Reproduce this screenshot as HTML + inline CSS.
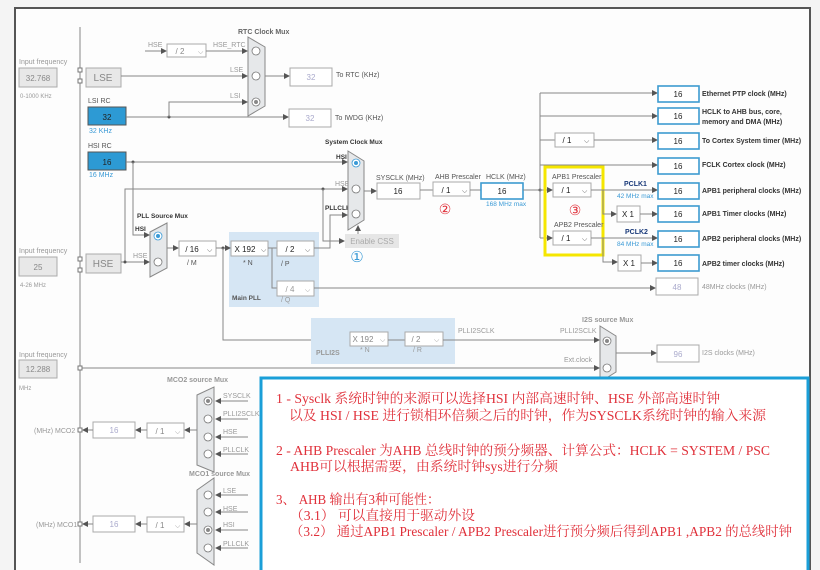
<!DOCTYPE html>
<html><head><meta charset="utf-8"><style>
html,body{margin:0;padding:0;background:#f4f4f4;}
svg{display:block;font-family:"Liberation Sans",sans-serif;}
.l{stroke:#888;stroke-width:1;fill:none}
.b{fill:#fff;stroke:#aaa;stroke-width:1}
.bb{fill:#fff;stroke:#3d9bd0;stroke-width:1.6}
.t{font-size:7px;fill:#555}
.tg{font-size:7px;fill:#999}
.tb{font-size:7px;fill:#333;font-weight:bold}
.v{font-size:8px;fill:#222;text-anchor:middle}
.vg{font-size:8px;fill:#aac;text-anchor:middle}
.mux{fill:#e6e8ea;stroke:#888;stroke-width:1}
.c{fill:#fff;stroke:#777;stroke-width:0.8}
.r{font-family:"Liberation Serif","Noto Serif CJK SC",serif;font-size:13.5px;fill:#e0303a}
</style></head><body>
<svg width="820" height="570" viewBox="0 0 820 570" xmlns="http://www.w3.org/2000/svg">
<defs><marker id="a" markerWidth="6" markerHeight="6" refX="5" refY="3" orient="auto" markerUnits="userSpaceOnUse"><path d="M0,0 L6,3 L0,6z" fill="#555"/></marker></defs>
<rect x="15" y="8" width="795" height="570" fill="#fdfdfd" stroke="#555" stroke-width="2"/>
<line x1="80" y1="27" x2="80" y2="563" class="l"/>
<!-- left inputs -->
<text x="19" y="64" class="tg">Input frequency</text>
<rect x="19" y="68" width="38" height="19" fill="#e8e8e8" stroke="#aaa"/><text x="38" y="81" class="vg" style="fill:#888">32.768</text>
<text x="20" y="98" class="tg" style="font-size:6px">0-1000 KHz</text>
<rect x="78" y="68" width="4" height="4" fill="#fff" stroke="#777"/><rect x="78" y="79" width="4" height="4" fill="#fff" stroke="#777"/>
<rect x="86" y="68" width="35" height="19" fill="#e8e8e8" stroke="#aaa"/><text x="103" y="81" style="font-size:10px;fill:#888;text-anchor:middle">LSE</text>
<text x="19" y="253" class="tg">Input frequency</text>
<rect x="19" y="257" width="38" height="19" fill="#e8e8e8" stroke="#aaa"/><text x="38" y="270" class="vg" style="fill:#888">25</text>
<text x="20" y="287" class="tg" style="font-size:6px">4-26 MHz</text>
<rect x="78" y="257" width="4" height="4" fill="#fff" stroke="#777"/><rect x="78" y="268" width="4" height="4" fill="#fff" stroke="#777"/>
<rect x="86" y="254" width="35" height="19" fill="#e8e8e8" stroke="#aaa"/><text x="103" y="267" style="font-size:10px;fill:#888;text-anchor:middle">HSE</text>
<text x="19" y="357" class="tg">Input frequency</text>
<rect x="19" y="360" width="38" height="18" fill="#e8e8e8" stroke="#aaa"/><text x="38" y="372" class="vg" style="fill:#888">12.288</text>
<text x="19" y="390" class="tg" style="font-size:6px">MHz</text>
<!-- RTC -->
<text x="238" y="34" class="tb" style="fill:#666">RTC Clock Mux</text>
<line x1="145" y1="51" x2="166" y2="51" class="l" marker-end="url(#a)"/><text x="148" y="47" class="tg">HSE</text>
<rect x="167" y="44" width="39" height="13" class="b"/><text x="180" y="54" class="v" style="fill:#888">/ 2</text><text x="198" y="54" class="tg">⌵</text>
<line x1="206" y1="51" x2="247" y2="51" class="l" marker-end="url(#a)"/><text x="213" y="47" class="tg">HSE_RTC</text>
<line x1="121" y1="76" x2="247" y2="76" class="l" marker-end="url(#a)"/><text x="230" y="72" class="tg">LSE</text>
<path d="M248,37 L265,47 L265,106 L248,116z" class="mux"/>
<circle cx="256" cy="51" r="4" class="c"/><circle cx="256" cy="76" r="4" class="c"/><circle cx="256" cy="102" r="4" class="c"/><circle cx="256" cy="102" r="2" fill="#888"/>
<line x1="265" y1="76" x2="289" y2="76" class="l" marker-end="url(#a)"/>
<rect x="290" y="68" width="42" height="18" class="b"/><text x="311" y="80" class="vg">32</text><text x="336" y="77" class="t">To RTC (KHz)</text>
<text x="88" y="103" class="t">LSI RC</text>
<rect x="88" y="107" width="38" height="18" fill="#2d9ad4" stroke="#555"/><text x="107" y="120" class="v">32</text>
<text x="89" y="133" style="font-size:7px;fill:#3a9ad6">32 KHz</text>
<line x1="126" y1="117" x2="288" y2="117" class="l" marker-end="url(#a)"/><circle cx="169" cy="117" r="1.5" fill="#555"/>
<polyline points="169,117 169,102 247,102" class="l" marker-end="url(#a)"/><text x="230" y="98" class="tg">LSI</text>
<rect x="289" y="109" width="42" height="18" class="b"/><text x="310" y="121" class="vg">32</text><text x="335" y="120" class="t">To IWDG (KHz)</text>
<text x="88" y="148" class="t">HSI RC</text>
<rect x="88" y="152" width="38" height="18" fill="#2d9ad4" stroke="#555"/><text x="107" y="165" class="v">16</text>
<text x="89" y="177" style="font-size:7px;fill:#3a9ad6">16 MHz</text>
<!-- sys mux -->
<line x1="126" y1="162" x2="347" y2="162" class="l" marker-end="url(#a)"/><circle cx="133" cy="162" r="1.5" fill="#555"/>
<polyline points="133,162 133,235 149,235" class="l" marker-end="url(#a)"/>
<polyline points="125,262 125,189 347,189" class="l" marker-end="url(#a)"/><circle cx="323" cy="189" r="1.5" fill="#555"/>
<line x1="121" y1="262" x2="149" y2="262" class="l" marker-end="url(#a)"/><circle cx="125" cy="262" r="1.5" fill="#555"/>
<text x="325" y="144" class="tb" style="font-size:6.5px">System Clock Mux</text>
<text x="336" y="159" class="tb" style="font-size:6.5px">HSI</text><text x="335" y="186" class="tg">HSE</text><text x="325" y="210" class="tb" style="font-size:6.5px">PLLCLK</text>
<path d="M348,151 L364,161 L364,220 L348,230z" class="mux"/>
<circle cx="356" cy="163" r="4" class="c" style="stroke:#3a9ad6"/><circle cx="356" cy="163" r="2" fill="#3a9ad6"/>
<circle cx="356" cy="189" r="4" class="c"/><circle cx="356" cy="214" r="4" class="c"/>
<polyline points="323,189 323,241 344,241" class="l" marker-end="url(#a)"/>
<line x1="358" y1="234" x2="358" y2="226" class="l" marker-end="url(#a)"/>
<rect x="345" y="234" width="54" height="14" fill="#e6e6e6"/><text x="372" y="244" style="font-size:8px;fill:#aaa;text-anchor:middle">Enable CSS</text>
<text x="357" y="262" style="font-size:15px;fill:#3a9ad6;text-anchor:middle">①</text>
<!-- PLL -->
<text x="137" y="218" class="tb" style="font-size:6.5px">PLL Source Mux</text>
<text x="135" y="231" class="tb" style="font-size:6.5px">HSI</text><text x="133" y="258" class="tg">HSE</text>
<path d="M150,232 L167,223 L167,268 L150,277z" class="mux"/>
<circle cx="158" cy="236" r="4" class="c" style="stroke:#3a9ad6"/><circle cx="158" cy="236" r="2" fill="#3a9ad6"/><circle cx="158" cy="262" r="4" class="c"/>
<line x1="167" y1="248" x2="178" y2="248" class="l" marker-end="url(#a)"/>
<rect x="179" y="241" width="37" height="15" class="b"/><text x="192" y="252" class="v">/ 16</text><text x="207" y="252" class="t">⌵</text><text x="187" y="265" class="t">/ M</text>
<rect x="229" y="232" width="90" height="75" fill="#d6e6f4"/>
<line x1="216" y1="248" x2="230" y2="248" class="l" marker-end="url(#a)"/><circle cx="223" cy="248" r="1.5" fill="#555"/>
<rect x="231" y="241" width="37" height="15" class="b"/><text x="245" y="252" class="v">X 192</text><text x="261" y="252" class="t">⌵</text><text x="243" y="265" class="t">* N</text>
<line x1="268" y1="248" x2="277" y2="248" class="l"/><polyline points="272,248 272,288 277,288" class="l"/>
<rect x="277" y="241" width="37" height="15" class="b"/><text x="290" y="252" class="v">/ 2</text><text x="305" y="252" class="t">⌵</text><text x="281" y="266" class="t">/ P</text>
<rect x="277" y="281" width="37" height="15" class="b"/><text x="290" y="292" class="v" style="fill:#999">/ 4</text><text x="305" y="292" class="tg">⌵</text><text x="281" y="302" class="tg">/ Q</text>
<text x="232" y="300" class="tb" style="font-size:6.5px;fill:#555">Main PLL</text>
<polyline points="314,248 330,248 330,215 347,215" class="l" marker-end="url(#a)"/>
<line x1="314" y1="288" x2="655" y2="288" class="l" marker-end="url(#a)"/>
<rect x="656" y="278" width="42" height="17" class="b"/><text x="677" y="290" class="vg">48</text><text x="702" y="289" class="tg">48MHz clocks (MHz)</text>
<!-- PLLI2S -->
<polyline points="223,248 223,340 349,340" class="l"/>
<rect x="311" y="318" width="144" height="46" fill="#d6e6f4"/>
<rect x="350" y="332" width="38" height="14" class="b"/><text x="363" y="342" class="v" style="fill:#888">X 192</text><text x="380" y="342" class="tg">⌵</text><text x="360" y="352" class="tg">* N</text>
<line x1="388" y1="340" x2="405" y2="340" class="l"/>
<rect x="405" y="332" width="38" height="14" class="b"/><text x="416" y="342" class="v" style="fill:#888">/ 2</text><text x="434" y="342" class="tg">⌵</text><text x="413" y="352" class="tg">/ R</text>
<text x="316" y="355" class="tg" style="font-weight:bold">PLLI2S</text>
<line x1="443" y1="340" x2="599" y2="340" class="l" marker-end="url(#a)"/><text x="458" y="333" class="tg">PLLI2SCLK</text><text x="560" y="333" class="tg">PLLI2SCLK</text>
<line x1="80" y1="368" x2="599" y2="368" class="l" marker-end="url(#a)"/><rect x="78" y="366" width="4" height="4" fill="#fff" stroke="#777"/><text x="564" y="362" class="tg">Ext.clock</text>
<text x="582" y="322" class="tg" style="font-weight:bold">I2S source Mux</text>
<path d="M600,326 L616,336 L616,372 L600,382z" class="mux"/>
<circle cx="607" cy="341" r="4" class="c"/><circle cx="607" cy="341" r="2" fill="#888"/><circle cx="607" cy="368" r="4" class="c"/>
<line x1="616" y1="353" x2="656" y2="353" class="l" marker-end="url(#a)"/>
<rect x="657" y="345" width="42" height="17" class="b"/><text x="678" y="357" class="vg">96</text><text x="702" y="355" class="tg">I2S clocks (MHz)</text>
<!-- AHB -->
<line x1="364" y1="191" x2="376" y2="191" class="l" marker-end="url(#a)"/>
<text x="376" y="180" class="t">SYSCLK (MHz)</text>
<rect x="377" y="183" width="43" height="16" class="b"/><text x="398" y="194" class="v">16</text>
<line x1="420" y1="190" x2="433" y2="190" class="l"/>
<text x="435" y="179" class="t">AHB Prescaler</text>
<rect x="433" y="182" width="37" height="14" class="b"/><text x="446" y="193" class="v">/ 1</text><text x="462" y="193" class="t">⌵</text>
<text x="445" y="214" style="font-size:14px;fill:#e0303a;text-anchor:middle">②</text>
<line x1="470" y1="190" x2="481" y2="190" class="l"/>
<text x="486" y="179" class="t">HCLK (MHz)</text>
<rect x="481" y="183" width="42" height="16" class="bb"/><text x="502" y="194" class="v">16</text>
<text x="486" y="206" style="font-size:6.5px;fill:#3a9ad6">168 MHz max</text>
<line x1="523" y1="190" x2="540" y2="190" class="l"/><circle cx="540" cy="190" r="1.5" fill="#555"/>
<line x1="540" y1="93" x2="540" y2="238" class="l"/>
<line x1="540" y1="93" x2="657" y2="93" class="l" marker-end="url(#a)"/>
<line x1="540" y1="116" x2="657" y2="116" class="l" marker-end="url(#a)"/>
<line x1="540" y1="140" x2="555" y2="140" class="l"/>
<rect x="555" y="133" width="39" height="14" class="b"/><text x="567" y="143" class="v">/ 1</text><text x="584" y="143" class="t">⌵</text>
<line x1="594" y1="140" x2="657" y2="140" class="l" marker-end="url(#a)"/>
<line x1="540" y1="165" x2="657" y2="165" class="l" marker-end="url(#a)"/>
<line x1="540" y1="190" x2="552" y2="190" class="l" marker-end="url(#a)"/>
<line x1="540" y1="238" x2="552" y2="238" class="l" marker-end="url(#a)"/>
<rect x="545" y="167" width="58" height="88" fill="none" stroke="#f5e600" stroke-width="3"/>
<text x="552" y="179" class="t">APB1 Prescaler</text>
<rect x="553" y="183" width="38" height="14" class="b"/><text x="566" y="193" class="v">/ 1</text><text x="582" y="193" class="t">⌵</text>
<text x="575" y="215" style="font-size:14px;fill:#e0303a;text-anchor:middle">③</text>
<text x="554" y="227" class="t">APB2 Prescaler</text>
<rect x="553" y="231" width="38" height="14" class="b"/><text x="566" y="241" class="v">/ 1</text><text x="582" y="241" class="t">⌵</text>
<line x1="591" y1="190" x2="657" y2="190" class="l" marker-end="url(#a)"/>
<line x1="591" y1="238" x2="657" y2="238" class="l" marker-end="url(#a)"/>
<polyline points="603,190 603,214 616,214" class="l" marker-end="url(#a)"/>
<polyline points="603,238 603,262 617,262" class="l" marker-end="url(#a)"/>
<text x="624" y="186" class="tb" style="fill:#1a3a7a">PCLK1</text><text x="617" y="198" style="font-size:6.5px;fill:#3a9ad6">42 MHz max</text>
<text x="625" y="234" class="tb" style="fill:#1a3a7a">PCLK2</text><text x="617" y="246" style="font-size:6.5px;fill:#3a9ad6">84 MHz max</text>
<rect x="617" y="206" width="23" height="16" class="b"/><text x="628" y="217" class="v">X 1</text>
<rect x="618" y="255" width="23" height="16" class="b"/><text x="629" y="266" class="v">X 1</text>
<line x1="640" y1="214" x2="657" y2="214" class="l" marker-end="url(#a)"/>
<line x1="641" y1="263" x2="657" y2="263" class="l" marker-end="url(#a)"/>
<g>
<rect x="658" y="86" width="41" height="16" class="bb"/><text x="678" y="97" class="v">16</text>
<rect x="658" y="108" width="41" height="16" class="bb"/><text x="678" y="119" class="v">16</text>
<rect x="658" y="133" width="41" height="16" class="bb"/><text x="678" y="144" class="v">16</text>
<rect x="658" y="158" width="41" height="16" class="bb"/><text x="678" y="169" class="v">16</text>
<rect x="658" y="183" width="41" height="16" class="bb"/><text x="678" y="194" class="v">16</text>
<rect x="658" y="206" width="41" height="16" class="bb"/><text x="678" y="217" class="v">16</text>
<rect x="658" y="231" width="41" height="16" class="bb"/><text x="678" y="242" class="v">16</text>
<rect x="658" y="255" width="41" height="16" class="bb"/><text x="678" y="266" class="v">16</text>
</g>
<text x="702" y="96" class="tb">Ethernet PTP clock (MHz)</text>
<text x="702" y="114" class="tb">HCLK to AHB bus, core,</text><text x="702" y="124" class="tb">memory and DMA (MHz)</text>
<text x="702" y="143" class="tb">To Cortex System timer (MHz)</text>
<text x="702" y="167" class="tb">FCLK Cortex clock (MHz)</text>
<text x="702" y="193" class="tb">APB1 peripheral clocks (MHz)</text>
<text x="702" y="216" class="tb">APB1 Timer clocks (MHz)</text>
<text x="702" y="241" class="tb">APB2 peripheral clocks (MHz)</text>
<text x="702" y="266" class="tb">APB2 timer clocks (MHz)</text>
<!-- MCO -->
<text x="167" y="382" class="tg" style="font-weight:bold">MCO2 source Mux</text>
<path d="M197,395 L214,387 L214,472 L197,465z" class="mux" style="transform:none"/>
<circle cx="208" cy="401" r="4" class="c"/><circle cx="208" cy="401" r="2" fill="#888"/><circle cx="208" cy="419" r="4" class="c"/><circle cx="208" cy="437" r="4" class="c"/><circle cx="208" cy="454" r="4" class="c"/>
<g class="tg"><text x="223" y="398" class="tg">SYSCLK</text><text x="223" y="416" class="tg">PLLI2SCLK</text><text x="223" y="434" class="tg">HSE</text><text x="223" y="452" class="tg">PLLCLK</text>
<text x="223" y="493" class="tg">LSE</text><text x="223" y="511" class="tg">HSE</text><text x="223" y="527" class="tg">HSI</text><text x="223" y="546" class="tg">PLLCLK</text></g>
<line x1="248" y1="401" x2="216" y2="401" class="l" marker-end="url(#a)"/><line x1="248" y1="419" x2="216" y2="419" class="l" marker-end="url(#a)"/><line x1="248" y1="437" x2="216" y2="437" class="l" marker-end="url(#a)"/><line x1="248" y1="454" x2="216" y2="454" class="l" marker-end="url(#a)"/>
<line x1="197" y1="430" x2="185" y2="430" class="l" marker-end="url(#a)"/>
<rect x="147" y="423" width="37" height="15" class="b"/><text x="160" y="434" class="v" style="fill:#888">/ 1</text><text x="175" y="434" class="tg">⌵</text>
<line x1="147" y1="430" x2="136" y2="430" class="l" marker-end="url(#a)"/>
<rect x="93" y="422" width="42" height="16" class="b"/><text x="114" y="433" class="vg">16</text>
<line x1="93" y1="430" x2="83" y2="430" class="l" marker-end="url(#a)"/><rect x="78" y="428" width="4" height="4" fill="#fff" stroke="#777"/>
<text x="34" y="433" class="tg">(MHz) MCO2</text>
<text x="189" y="476" class="tg" style="font-weight:bold">MCO1 source Mux</text>
<path d="M197,490 L214,478 L214,565 L197,553z" class="mux"/>
<circle cx="208" cy="495" r="4" class="c"/><circle cx="208" cy="512" r="4" class="c"/><circle cx="208" cy="530" r="4" class="c"/><circle cx="208" cy="530" r="2" fill="#888"/><circle cx="208" cy="548" r="4" class="c"/>
<line x1="248" y1="495" x2="216" y2="495" class="l" marker-end="url(#a)"/><line x1="248" y1="512" x2="216" y2="512" class="l" marker-end="url(#a)"/><line x1="248" y1="530" x2="216" y2="530" class="l" marker-end="url(#a)"/><line x1="248" y1="548" x2="216" y2="548" class="l" marker-end="url(#a)"/>
<line x1="197" y1="524" x2="185" y2="524" class="l" marker-end="url(#a)"/>
<rect x="147" y="517" width="37" height="15" class="b"/><text x="160" y="528" class="v" style="fill:#888">/ 1</text><text x="175" y="528" class="tg">⌵</text>
<line x1="147" y1="524" x2="136" y2="524" class="l" marker-end="url(#a)"/>
<rect x="93" y="516" width="42" height="16" class="b"/><text x="114" y="527" class="vg">16</text>
<line x1="93" y1="524" x2="83" y2="524" class="l" marker-end="url(#a)"/><rect x="78" y="522" width="4" height="4" fill="#fff" stroke="#777"/>
<text x="36" y="527" class="tg">(MHz) MCO1</text>
<!-- annotation -->
<rect x="261" y="378" width="547" height="200" fill="#fff" stroke="#1a9fd8" stroke-width="3"/>
<text x="276" y="403" class="r" textLength="444" lengthAdjust="spacingAndGlyphs">1 - Sysclk 系统时钟的来源可以选择HSI 内部高速时钟、HSE 外部高速时钟</text>
<text x="289" y="420" class="r" textLength="477" lengthAdjust="spacingAndGlyphs">以及 HSI / HSE 进行锁相环倍频之后的时钟，作为SYSCLK系统时钟的输入来源</text>
<text x="276" y="455" class="r" textLength="494" lengthAdjust="spacingAndGlyphs">2 - AHB Prescaler 为AHB 总线时钟的预分频器、计算公式：HCLK = SYSTEM / PSC</text>
<text x="290" y="471" class="r" textLength="268" lengthAdjust="spacingAndGlyphs">AHB可以根据需要，由系统时钟sys进行分频</text>
<text x="276" y="504" class="r" textLength="164" lengthAdjust="spacingAndGlyphs">3、 AHB 输出有3种可能性：</text>
<text x="290" y="520" class="r" textLength="185" lengthAdjust="spacingAndGlyphs">（3.1） 可以直接用于驱动外设</text>
<text x="290" y="536" class="r" textLength="502" lengthAdjust="spacingAndGlyphs">（3.2） 通过APB1 Prescaler / APB2 Prescaler进行预分频后得到APB1 ,APB2 的总线时钟</text>
</svg>
</body></html>
